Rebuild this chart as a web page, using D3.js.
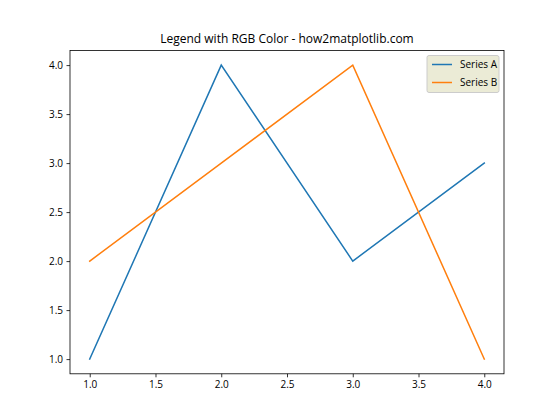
<!DOCTYPE html>
<html><head><meta charset="utf-8">
<script src="https://cdn.jsdelivr.net/npm/d3@7"></script>
<style>body{margin:0;background:#fff}svg{display:block}text{font-family:"Open Sans","Noto Sans",sans-serif;fill:#000}</style>
</head><body>
<script>
const xValues = [1, 2, 3, 4];
const seriesA = [1, 4, 2, 3];
const seriesB = [2, 3, 4, 1];
const seriesNames = ["Series A", "Series B"];
const seriesColors = ["#1f77b4", "#ff7f0e"];
const xTicks = [1.0, 1.5, 2.0, 2.5, 3.0, 3.5, 4.0];
const yTicks = [1.0, 1.5, 2.0, 2.5, 3.0, 3.5, 4.0];
const title = "Legend with RGB Color - how2matplotlib.com";

const W = 560, H = 420;
const L = 70, R = 504, T = 50.4, B = 373.8;
const svg = d3.select("body").append("svg").attr("width", W).attr("height", H);
const x = d3.scaleLinear().domain([0.85, 4.15]).range([L, R]);
const y = d3.scaleLinear().domain([0.85, 4.15]).range([B, T]);

const line = d3.line().x((d, i) => x(xValues[i])).y(d => y(d));
[seriesA, seriesB].forEach((s, k) => {
  svg.append("path").datum(s).attr("d", line).attr("fill", "none")
    .attr("stroke", seriesColors[k]).attr("stroke-width", 1.5).attr("stroke-linecap", "square");
});

const xa = svg.append("g").attr("transform", `translate(0,${B})`)
  .call(d3.axisBottom(x).tickValues(xTicks).tickFormat(d3.format(".1f")).tickSizeInner(3.5).tickSizeOuter(0).tickPadding(3.5));
const ya = svg.append("g").attr("transform", `translate(${L},0)`)
  .call(d3.axisLeft(y).tickValues(yTicks).tickFormat(d3.format(".1f")).tickSizeInner(3.5).tickSizeOuter(0).tickPadding(3.5));
[xa, ya].forEach(a => {
  a.selectAll(".domain").remove();
  a.selectAll("line").attr("stroke", "#000").attr("stroke-width", 0.8);
  a.selectAll("text").attr("font-size", 10).attr("fill", "#000").style("font-family", '"Open Sans","Noto Sans",sans-serif');
});
svg.append("rect").attr("x", L).attr("y", T).attr("width", R - L).attr("height", B - T)
  .attr("fill", "none").attr("stroke", "#000").attr("stroke-width", 0.8);

svg.append("text").attr("x", (L + R) / 2).attr("y", T - 7).attr("text-anchor", "middle")
  .attr("font-size", 12).text(title);

// legend
const lg = svg.append("g");
const lx = 427, ly = 55.5, lw = 72, lh = 37;
lg.append("rect").attr("x", lx).attr("y", ly).attr("width", lw).attr("height", lh).attr("rx", 2)
  .attr("fill", "rgb(235,235,214)").attr("stroke", "#cccccc").attr("stroke-width", 1);
seriesNames.forEach((n, k) => {
  const yy = ly + 9 + k * 18;
  lg.append("line").attr("x1", lx + 5).attr("x2", lx + 25).attr("y1", yy).attr("y2", yy)
    .attr("stroke", seriesColors[k]).attr("stroke-width", 1.5);
  lg.append("text").attr("x", lx + 33).attr("y", yy + 3.5).attr("font-size", 10).text(n);
});
</script>
</body></html>
